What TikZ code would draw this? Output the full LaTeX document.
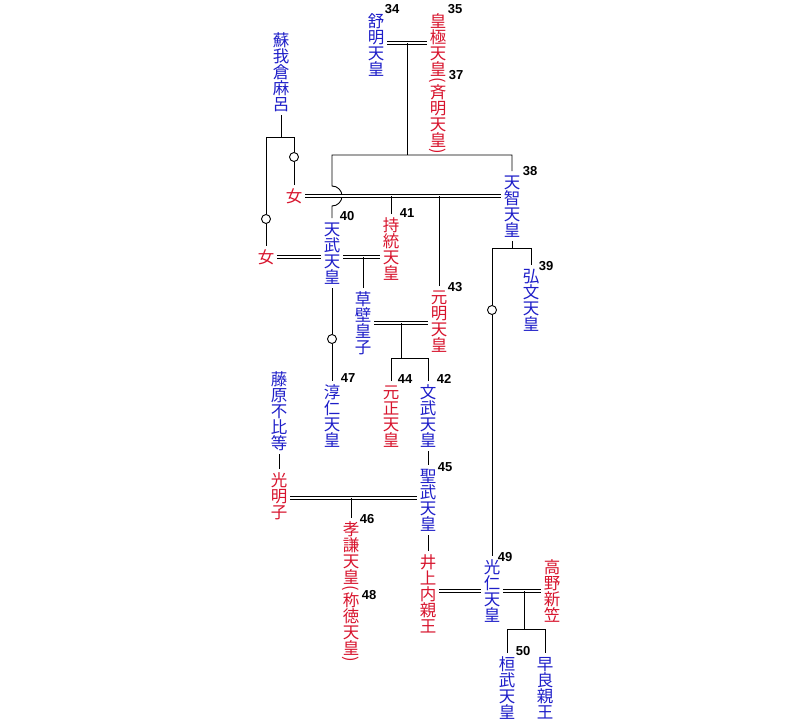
\documentclass[tikz,border=0pt]{standalone}
\usepackage{fontspec}
\usepackage{graphicx}
\usepackage{tikz}
\usetikzlibrary{calc}
\newfontfamily\jp{Noto Sans CJK JP}
\newfontfamily\numfont{Liberation Sans}
\definecolor{kblue}{RGB}{30,30,200}
\definecolor{kred}{RGB}{215,20,45}

% vertical text, one character per slot
\newcommand\tateparen[1]{\hbox to 16pt{\hss\vbox to 7pt{\vss\hbox{\rotatebox{-90}{#1}}\vss}\hss}}
\newcommand\tatechar[1]{%
  \ifx(#1\tateparen{(}\else
  \ifx)#1\tateparen{)}\else
  \hbox to 16pt{\hss\vrule width0pt height14pt depth2pt\smash{#1}\hss}\fi\fi}
\def\tatei#1{\ifx\relax#1\else\tatechar{#1}\expandafter\tatei\fi}
\newcommand\tate[1]{\vbox{\offinterlineskip\tatei#1\relax}}

\begin{document}
\begin{tikzpicture}[x=1pt, y=-1pt, line width=0.9pt,
    person/.style={anchor=north, inner sep=0pt, outer sep=3pt,
        font=\jp\fontsize{16.5}{16}\selectfont},
    man/.style={person, text=kblue},
    woman/.style={person, text=kred},
    num/.style={inner sep=0pt, font=\numfont\bfseries\fontsize{13}{13}\selectfont},
    marr/.style={double, double distance=2.1pt},
    ring/.style={circle, draw, fill=white, minimum size=9pt, inner sep=0pt}]
    \useasboundingbox (0,0) rectangle (812,720);

    % people
    \node[man] (soga) at (281,29) {\tate{蘇我倉麻呂}};
    \node[man] (jomei) at (376,10) {\tate{舒明天皇}};
    \node[woman] (kogyoku) at (438,10) {\tate{皇極天皇(斉明天皇)}};
    \node[woman] (onna1) at (294,185) {\tate{女}};
    \node[man] (tenji) at (512,171) {\tate{天智天皇}};
    \node[man] (tenmu) at (332,218) {\tate{天武天皇}};
    \node[woman] (jito) at (391,214) {\tate{持統天皇}};
    \node[woman] (onna2) at (266,246) {\tate{女}};
    \node[man] (kobun) at (531,265) {\tate{弘文天皇}};
    \node[man] (kusakabe) at (363,288) {\tate{草壁皇子}};
    \node[woman] (genmei) at (439,286) {\tate{元明天皇}};
    \node[woman] (gensho) at (391,381) {\tate{元正天皇}};
    \node[man] (monmu) at (428,381) {\tate{文武天皇}};
    \node[man] (junnin) at (332,381) {\tate{淳仁天皇}};
    \node[man] (fujiwara) at (279,368) {\tate{藤原不比等}};
    \node[woman] (komyo) at (279,469) {\tate{光明子}};
    \node[man] (shomu) at (428,465) {\tate{聖武天皇}};
    \node[woman] (koken) at (351,518) {\tate{孝謙天皇(称徳天皇)}};
    \node[woman] (inoue) at (428,551) {\tate{井上内親王}};
    \node[man] (konin) at (492,556) {\tate{光仁天皇}};
    \node[woman] (takano) at (552,556) {\tate{高野新笠}};
    \node[man] (kanmu) at (507,653) {\tate{桓武天皇}};
    \node[man] (sawara) at (545,653) {\tate{早良親王}};

    % reign numbers
    \node[num] (n34) at (392,9) {34};
    \node[num] (n35) at (455,9) {35};
    \node[num] (n37) at (456,75) {37};
    \node[num] (n38) at (530,171) {38};
    \node[num] (n40) at (347,216) {40};
    \node[num] (n41) at (407,213) {41};
    \node[num] (n39) at (546,266) {39};
    \node[num] (n43) at (455,287) {43};
    \node[num] (n47) at (348,378) {47};
    \node[num] (n44) at (405,379) {44};
    \node[num] (n42) at (444,379) {42};
    \node[num] (n45) at (445,467) {45};
    \node[num] (n46) at (367,519) {46};
    \node[num] (n48) at (369,595) {48};
    \node[num] (n49) at (505,557) {49};
    \node[num] (n50) at (523,651) {50};

    % adoption rings
    \node[ring] (r1) at (294,157) {};
    \node[ring] (r2) at (266,219) {};
    \node[ring] (r3) at (332,339) {};
    \node[ring] (r4) at (492,310) {};

    % jomei = kogyoku
    \coordinate (c1) at (407,43);
    \coordinate (c1b) at (407,155);
    \draw[marr] (jomei.east |- c1) -- (kogyoku.west |- c1);
    \draw (c1) -- (c1b);
    \draw (tenji.north) -- (tenji.north |- c1b) -- (tenmu.north |- c1b)
        -- ([yshift=10pt]tenmu.north |- onna1.east)
        arc[start angle=90, end angle=-90, radius=10pt] -- (tenmu.north);

    % soga
    \coordinate (c2) at (281,137);
    \draw (soga.south) -- (c2);
    \draw (onna1.north) -- (r1) -- (r1 |- c2) -- (r2 |- c2) -- (r2) -- (onna2.north);

    % onna1 = tenji
    \draw[marr] (onna1.east) -- (tenji.west |- onna1.east);
    \draw (jito.north) -- (jito.north |- onna1.east);
    \draw (genmei.north) -- (genmei.north |- onna1.east);

    % onna2 = tenmu = jito
    \draw[marr] (onna2.east) -- (tenmu.west |- onna2.east);
    \draw[marr] (tenmu.east |- onna2.east) -- (jito.west |- onna2.east);
    \draw (kusakabe.north) -- (kusakabe.north |- onna2.east);
    \draw (tenmu.south) -- (r3) -- (junnin.north);

    % kusakabe = genmei
    \coordinate (c4) at (401,323);
    \coordinate (c5) at (401,358);
    \draw[marr] (kusakabe.east |- c4) -- (genmei.west |- c4);
    \draw (c4) -- (c5);
    \draw (gensho.north) -- (gensho.north |- c5) -- (monmu.north |- c5) -- (monmu.north);

    % tenji
    \coordinate (c6) at (512,248);
    \draw (tenji.south) -- (c6);
    \draw (kobun.north) -- (kobun.north |- c6) -- (r4 |- c6) -- (r4) -- (konin.north);

    % komyo = shomu
    \coordinate (c7) at (351,498);
    \draw (monmu.south) -- (shomu.north);
    \draw (fujiwara.south) -- (komyo.north);
    \draw[marr] (komyo.east |- c7) -- (shomu.west |- c7);
    \draw (c7) -- (koken.north);
    \draw (shomu.south) -- (inoue.north);

    % inoue = konin = takano
    \coordinate (c8) at (466,591);
    \coordinate (c9) at (524,591);
    \coordinate (c10) at (524,629);
    \draw[marr] (inoue.east |- c8) -- (konin.west |- c8);
    \draw[marr] (konin.east |- c9) -- (takano.west |- c9);
    \draw (c9) -- (c10);
    \draw (kanmu.north) -- (kanmu.north |- c10) -- (sawara.north |- c10) -- (sawara.north);
\end{tikzpicture}
\end{document}
